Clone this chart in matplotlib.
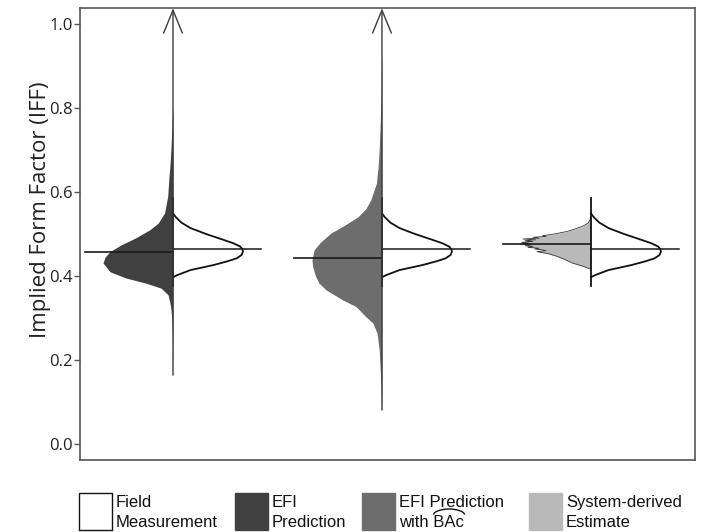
import matplotlib
matplotlib.use("Agg")
import matplotlib.pyplot as plt
from matplotlib.patches import Rectangle
from matplotlib.lines import Line2D
from matplotlib.transforms import IdentityTransform
import numpy as np

# ---------------- data ----------------
group_positions = [0, 1, 2]
legend_labels = ["Field\nMeasurement", "EFI\nPrediction",
                 "EFI Prediction\nwith BAc", "System-derived\nEstimate"]
hat_word = "BAc"
yticks = [0.0, 0.2, 0.4, 0.6, 0.8, 1.0]

# Field measurement (right halves, identical in every group)
field_y = [0.397, 0.402, 0.414, 0.426, 0.435, 0.442, 0.450, 0.458, 0.464, 0.470,
           0.478, 0.486, 0.500, 0.514, 0.527, 0.540, 0.549]
field_d = [0, 0.06, 0.25, 0.58, 0.78, 0.91, 0.98, 1.0, 0.99, 0.96,
           0.86, 0.72, 0.47, 0.25, 0.12, 0.04, 0]
field_median = 0.465
field_range = [0.377, 0.585]

# EFI Prediction (left half, group 1)
efi_y = [0.164, 0.25, 0.295, 0.327, 0.355, 0.371, 0.383, 0.395, 0.41, 0.431, 0.445,
         0.458, 0.474, 0.49, 0.51, 0.526, 0.55, 0.59, 0.63, 0.67, 0.717, 0.75, 0.783, 0.80]
efi_d = [0, 0.005, 0.015, 0.033, 0.07, 0.17, 0.39, 0.67, 0.9, 1.0, 0.97,
         0.9, 0.74, 0.54, 0.33, 0.21, 0.12, 0.075, 0.06, 0.04, 0.025, 0.015, 0.007, 0]
efi_median = 0.457
efi_min = 0.164

# EFI Prediction with BAc (left half, group 2)
bac_y = [0.081, 0.145, 0.224, 0.264, 0.288, 0.303, 0.327, 0.343, 0.367, 0.383, 0.40,
         0.422, 0.438, 0.462, 0.48, 0.502, 0.52, 0.541, 0.56, 0.581, 0.62, 0.66, 0.70,
         0.764, 0.83, 0.898, 0.93]
bac_d = [0, 0.015, 0.04, 0.07, 0.13, 0.23, 0.37, 0.56, 0.8, 0.9, 0.95,
         0.99, 1.0, 0.97, 0.88, 0.73, 0.54, 0.34, 0.23, 0.16, 0.08, 0.055, 0.04,
         0.025, 0.012, 0.006, 0]
bac_median = 0.443
bac_min = 0.081

# System-derived estimate (left half, group 3)
sys_y = [0.416, 0.423, 0.431, 0.439, 0.447, 0.453, 0.456, 0.458, 0.460, 0.462, 0.464,
         0.466, 0.468, 0.470, 0.472, 0.474, 0.476, 0.478, 0.480, 0.482, 0.484, 0.486,
         0.488, 0.490, 0.492, 0.494, 0.496, 0.498, 0.502, 0.506, 0.510, 0.514, 0.520,
         0.526, 0.537]
sys_d = [0, 0.11, 0.27, 0.37, 0.49, 0.61, 0.71, 0.77, 0.64, 0.69, 0.80,
         0.74, 0.90, 0.83, 0.94, 0.86, 1.0, 0.89, 0.99, 0.83, 0.94, 0.79,
         0.97, 0.74, 0.83, 0.64, 0.69, 0.59, 0.46, 0.34, 0.26, 0.19, 0.10,
         0.04, 0]
sys_median = 0.475

# ---------------- style ----------------
W, H = 707, 532
fig = plt.figure(figsize=(W / 100, H / 100), dpi=100)
ax = fig.add_axes([80 / W, 1 - 460 / H, (695 - 80) / W, (460 - 8.3) / H])

half_w = 0.335      # max half width of a violin (x units)
line_len = 0.42     # length of median lines
c_efi, c_bac, c_sys = "#404040", "#6d6d6d", "#b9b9b9"

left_sets = [
    (efi_y, efi_d, efi_median, c_efi),
    (bac_y, bac_d, bac_median, c_bac),
    (sys_y, sys_d, sys_median, c_sys),
]

for pos, (yy, dd, med, col) in zip(group_positions, left_sets):
    yy = np.asarray(yy); dd = np.asarray(dd)
    ax.fill_betweenx(yy, pos - half_w * dd, pos, color=col, lw=0, zorder=2)
    if col == c_sys:
        ax.plot(pos - half_w * dd, yy, color="#3a3a3a", lw=0.6, zorder=2.5)
    ax.plot([pos - line_len, pos], [med, med], color="#1a1a1a", lw=1.2, zorder=4)

# Right halves: field measurement
fy = np.asarray(field_y); fd = np.asarray(field_d)
for pos in group_positions:
    ax.fill_betweenx(fy, pos, pos + half_w * fd, color="white", lw=0, zorder=2)
    ax.plot(pos + half_w * fd, fy, color="#111111", lw=1.3, zorder=3)
    ax.plot([pos, pos], field_range, color="#111111", lw=1.3, zorder=3)
    ax.plot([pos, pos + line_len], [field_median, field_median], color="#1a1a1a", lw=1.1, zorder=4)

ylim = (-0.038, 1.037)
# long whiskers with open arrows to the top
for pos, lo in zip(group_positions[:2], [efi_min, bac_min]):
    ax.annotate("", xy=(pos, ylim[1]), xytext=(pos, lo),
                arrowprops=dict(arrowstyle="->,head_length=1.1,head_width=0.45",
                                color="#3c3c3c", lw=1.0, mutation_scale=15,
                                shrinkA=0, shrinkB=0),
                annotation_clip=False, zorder=5)

ax.set_xlim(-0.445, 2.498)
ax.set_ylim(*ylim)
ax.set_xticks([])
ax.set_yticks(yticks)
ax.set_yticklabels([f"{v:.1f}" for v in yticks], fontfamily="Open Sans", fontsize=12, color="#222222")
ax.tick_params(axis="y", length=4, width=1, color="#555555", pad=1)
for s in ax.spines.values():
    s.set_color("#555555")
    s.set_linewidth(1.2)
ax.set_ylabel("Implied Form Factor (IFF)", fontfamily="Open Sans", fontsize=16, color="#222222")
ax.yaxis.set_label_coords(-0.047, 0.553)

# ---------------- legend (manual) ----------------
box_left = [79, 235, 362, 529]
box_w, box_top, box_bot = 33, 493, 530
box_fc = ["white", c_efi, c_bac, c_sys]
box_ec = ["#111111", c_efi, c_bac, c_sys]
hat_texts = []
for lx, fc, ec, lab in zip(box_left, box_fc, box_ec, legend_labels):
    fig.add_artist(Rectangle((lx / W, 1 - box_bot / H), box_w / W, (box_bot - box_top) / H,
                             transform=fig.transFigure, facecolor=fc, edgecolor=ec, lw=1.0))
    lines = lab.split("\n")
    for j, ln in enumerate(lines):
        t = fig.text((lx + box_w + 4) / W, 1 - (507 + 20 * j) / H, ln, fontfamily="Liberation Sans",
                     fontsize=12, color="#111111", ha="left", va="baseline")
        if ln.endswith(hat_word):
            hat_texts.append(t)

# wide hat over "BAc"
fig.canvas.draw()
renderer = fig.canvas.get_renderer()
for t in hat_texts:
    full = t.get_text()
    prefix = full[: len(full) - len(hat_word)]
    bb_full = t.get_window_extent(renderer)
    tmp = fig.text(0, 0, prefix, fontfamily="Liberation Sans", fontsize=12)
    pw = tmp.get_window_extent(renderer).width
    tmp.remove()
    x0 = bb_full.x0 + pw + 0.5
    x1 = bb_full.x1 + 0.5
    ybase = bb_full.y0 + (bb_full.height) + 0.0
    ss = np.linspace(0, 1, 40)
    xs = x0 + (x1 - x0) * ss
    ys = (H - 514) + 5.0 * np.sin(np.pi * ss) ** 0.55
    fig.add_artist(Line2D(xs, ys, transform=IdentityTransform(), color="#111111", lw=1.0))

fig.savefig("out.png", dpi=100)
